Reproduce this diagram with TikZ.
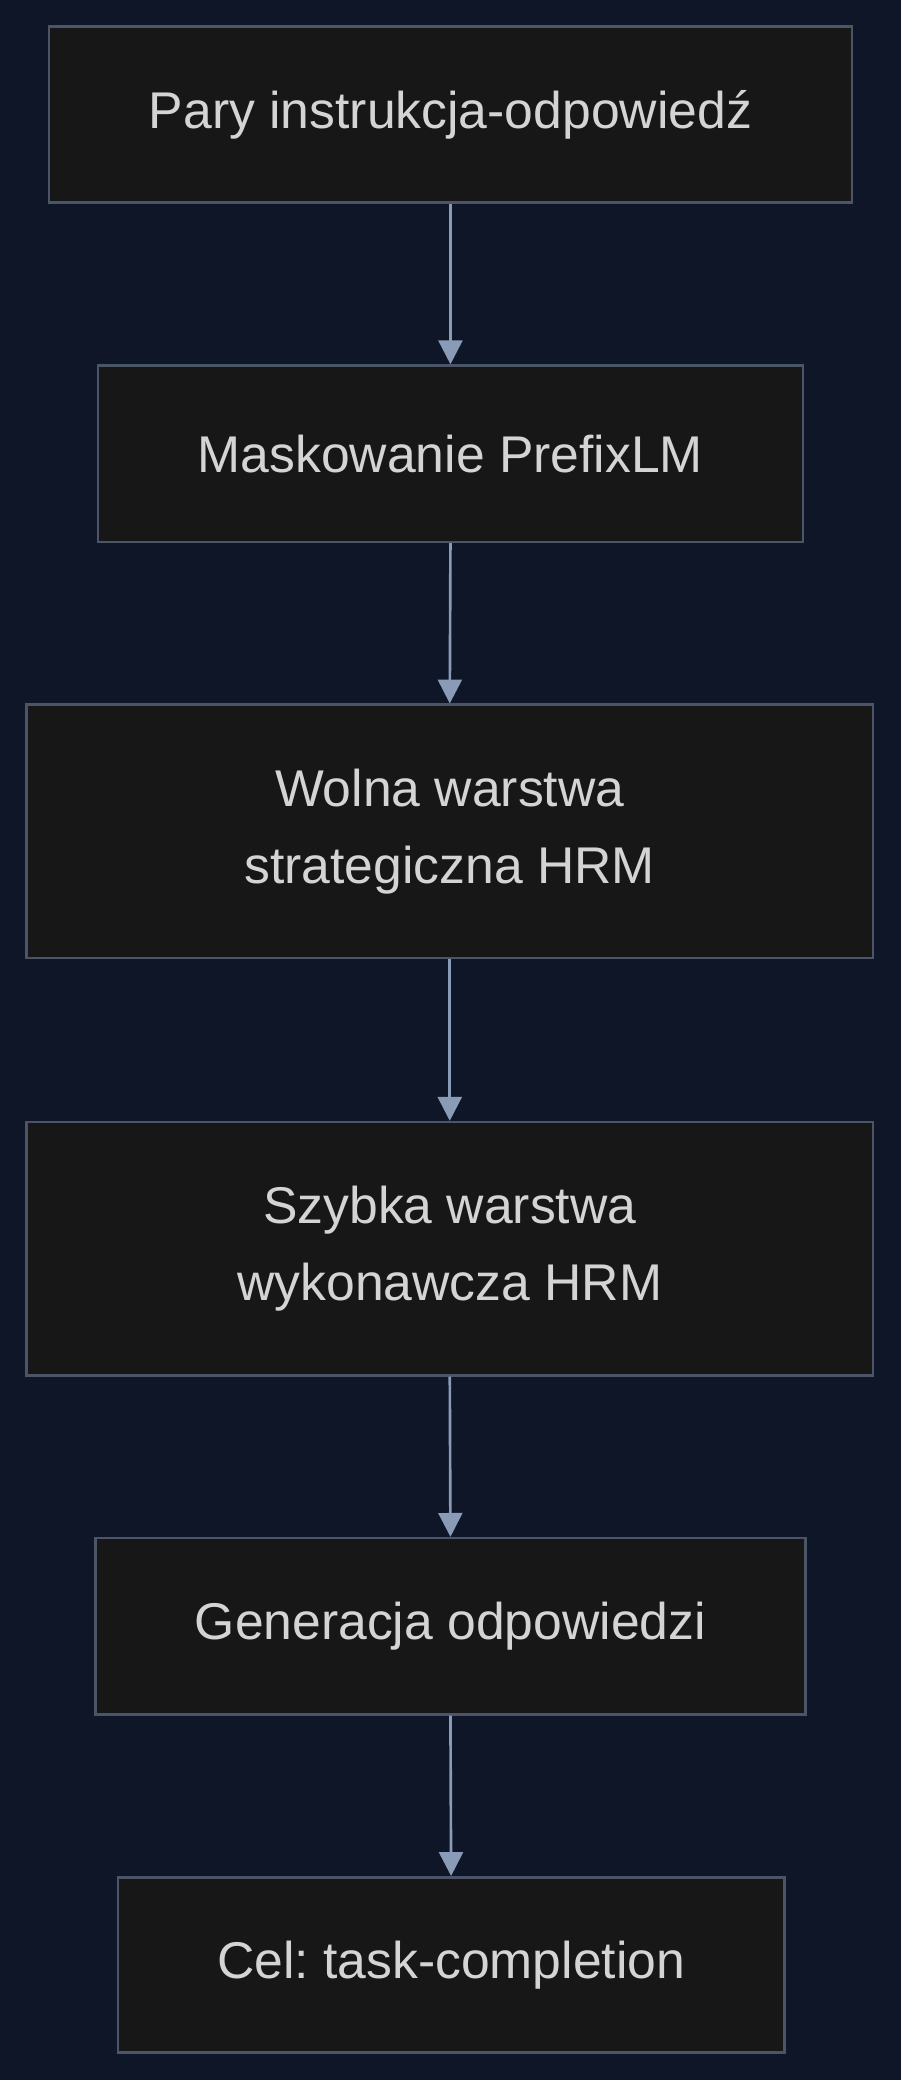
\documentclass[tikz,border=0pt]{standalone}
\usepackage{fontspec}
\setmainfont{Liberation Sans}
\frenchspacing
\usetikzlibrary{arrows.meta}
\definecolor{bg}{HTML}{0F1628}
\definecolor{boxfill}{HTML}{171717}
\definecolor{boxline}{HTML}{4A5568}
\definecolor{arr}{HTML}{8A9BB8}
\definecolor{txt}{HTML}{D4D4D4}
\begin{document}
\begin{tikzpicture}[x=1pt,y=-1pt,
  box/.style={draw=boxline,line width=2pt,fill=boxfill,text=txt,font=\fontsize{39}{58}\selectfont,align=center,inner sep=0pt},
  conn/.style={draw=arr,line width=2pt,-{Triangle[length=18pt,width=18pt]}}]
\fill[bg] (-1,-1) rectangle (679,1569);
\useasboundingbox (0,0) rectangle (678,1568);
\node[box,minimum width=606pt,minimum height=133pt] (a) at (339,85.5) {Pary instrukcja-odpowiedź};
\node[box,minimum width=532pt,minimum height=133pt] (b) at (339,341.5) {Maskowanie PrefixLM};
\node[box,minimum width=639pt,minimum height=191pt] (c) at (338.5,626.5) {Wolna warstwa\\strategiczna HRM};
\node[box,minimum width=639pt,minimum height=191pt] (d) at (338.5,941.5) {Szybka warstwa\\wykonawcza HRM};
\node[box,minimum width=536pt,minimum height=133pt] (e) at (339,1226.5) {Generacja odpowiedzi};
\node[box,minimum width=503pt,minimum height=132pt] (f) at (339.5,1482) {Cel: task-completion};
\draw[conn] (a.south) -- (b.north);
\draw[conn] (b.south) -- (c.north);
\draw[conn] (c.south) -- (d.north);
\draw[conn] (d.south) -- (e.north);
\draw[conn] (e.south) -- (f.north);
\end{tikzpicture}
\end{document}
